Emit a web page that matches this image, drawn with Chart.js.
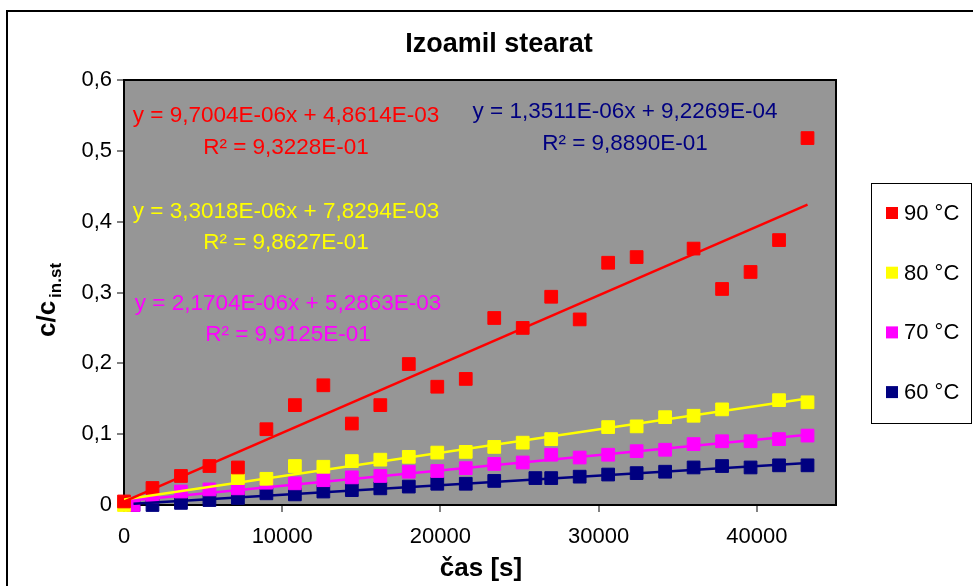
<!DOCTYPE html>
<html>
<head>
<meta charset="utf-8">
<script src="https://cdn.jsdelivr.net/npm/chart.js@4.4.1/dist/chart.umd.min.js"></script>
<style>
  html, body { margin: 0; padding: 0; background: #fff; }
</style>
</head>
<body>
<canvas id="chart" width="973" height="586"></canvas>
<script>
const seriesLabels = ["90 °C", "80 °C", "70 °C", "60 °C"];
const seriesColors = ["#ff0000", "#ffff00", "#ff00ff", "#000080"];

// measured points, time in s, c/c in.st
const time90 = [0, 1800, 3600, 5400, 7200, 9000, 10800, 12600, 14400, 16200, 18000, 19800, 21600, 23400, 25200, 27000, 28800, 30600, 32400, 36000, 37800, 39600, 41400, 43200];
const conc90 = [0.005, 0.024, 0.041, 0.055, 0.053, 0.107, 0.141, 0.169, 0.115, 0.141, 0.199, 0.167, 0.178, 0.264, 0.250, 0.294, 0.262, 0.342, 0.350, 0.362, 0.305, 0.329, 0.374, 0.518];

const time80 = [0, 7200, 9000, 10800, 12600, 14400, 16200, 18000, 19800, 21600, 23400, 25200, 27000, 30600, 32400, 34200, 36000, 37800, 41400, 43200];
const conc80 = [0.0, 0.038, 0.037, 0.055, 0.054, 0.062, 0.064, 0.068, 0.074, 0.075, 0.082, 0.088, 0.093, 0.110, 0.111, 0.124, 0.126, 0.135, 0.148, 0.145];

const time70 = [600, 1800, 3600, 5400, 7200, 9000, 10800, 12600, 14400, 16200, 18000, 19800, 21600, 23400, 25200, 27000, 28800, 30600, 32400, 34200, 36000, 37800, 39600, 41400, 43200];
const conc70 = [0.0, 0.012, 0.019, 0.022, 0.0235, 0.0315, 0.0306, 0.035, 0.039, 0.041, 0.047, 0.048, 0.052, 0.058, 0.060, 0.071, 0.067, 0.071, 0.076, 0.078, 0.086, 0.090, 0.090, 0.093, 0.098];

const time60 = [600, 1800, 3600, 5400, 7200, 9000, 10800, 12600, 14400, 16200, 18000, 19800, 21600, 23400, 26000, 27000, 28800, 30600, 32400, 34200, 36000, 37800, 39600, 41400, 43200];
const conc60 = [0.0, 0.0, 0.003, 0.007, 0.010, 0.0165, 0.015, 0.019, 0.021, 0.0235, 0.026, 0.030, 0.030, 0.034, 0.038, 0.038, 0.040, 0.043, 0.045, 0.047, 0.053, 0.055, 0.053, 0.056, 0.056];

// linear fits
const slopes = [9.7004E-06, 3.3018E-06, 2.1704E-06, 1.3511E-06];
const intercepts = [4.8614E-03, 7.8294E-03, 5.2863E-03, 9.2269E-04];
const eqTexts = ["y = 9,7004E-06x + 4,8614E-03", "y = 3,3018E-06x + 7,8294E-03", "y = 2,1704E-06x + 5,2863E-03", "y = 1,3511E-06x + 9,2269E-04"];
const r2Texts = ["R² = 9,3228E-01", "R² = 9,8627E-01", "R² = 9,9125E-01", "R² = 9,8890E-01"];

const xTicks = [0, 10000, 20000, 30000, 40000];
const yTicks = [0, 0.1, 0.2, 0.3, 0.4, 0.5, 0.6];

const times = [time90, time80, time70, time60];
const concs = [conc90, conc80, conc70, conc60];

const FONT = "'Liberation Sans', Arial, sans-serif";

const datasets = [];
seriesLabels.forEach((label, i) => {
    datasets.push({
        label,
        data: times[i].map((t, k) => ({ x: t, y: concs[i][k] })),
        showLine: false,
        pointStyle: "rect",
        pointRadius: 9,
        pointBorderWidth: 1,
        pointBackgroundColor: seriesColors[i],
        pointBorderColor: seriesColors[i],
        clip: false,
        order: 1 + i
    });
});
seriesLabels.forEach((label, i) => {
    const x0 = Math.min(...times[i]);
    const x1 = Math.max(...times[i]);
    datasets.push({
        label: label + " fit",
        data: [x0, x1].map(x => ({ x, y: slopes[i] * x + intercepts[i] })),
        showLine: true,
        pointRadius: 0,
        borderColor: seriesColors[i],
        borderWidth: 2.5,
        order: 0
    });
});

// equation label centres (px)
const eqPos = [[286, 116, 148], [286, 212, 243], [288, 304, 335], [625, 112, 144]];

const decor = {
    id: "decor",
    beforeDraw(chart) {
        const { ctx, chartArea: a } = chart;
        ctx.save();
        ctx.fillStyle = "#fff";
        ctx.fillRect(0, 0, chart.width, chart.height);
        ctx.fillStyle = "#969696";
        ctx.fillRect(a.left, a.top, a.right - a.left, a.bottom - a.top);
        ctx.restore();
    },
    beforeDatasetsDraw(chart) {
        const { ctx, chartArea: a } = chart;
        ctx.save();
        ctx.strokeStyle = "#000";
        ctx.lineWidth = 2;
        ctx.strokeRect(a.left, a.top, a.right - a.left, a.bottom - a.top);
        ctx.restore();
    },
    afterDraw(chart) {
        const { ctx } = chart;
        ctx.save();

        // outer frame
        ctx.strokeStyle = "#000";
        ctx.lineWidth = 2;
        ctx.beginPath();
        ctx.moveTo(7, chart.height);
        ctx.lineTo(7, 11);
        ctx.lineTo(chart.width, 11);
        ctx.stroke();

        // title + axis titles
        ctx.fillStyle = "#000";
        ctx.textAlign = "center";
        ctx.textBaseline = "middle";
        ctx.font = "bold 27px " + FONT;
        ctx.fillText("Izoamil stearat", 499, 45);
        ctx.font = "bold 26px " + FONT;
        ctx.fillText("čas [s]", 481, 569);

        ctx.save();
        ctx.translate(48, 300);
        ctx.rotate(-Math.PI / 2);
        ctx.font = "bold 26px " + FONT;
        const w1 = ctx.measureText("c/c").width;
        ctx.font = "bold 17px " + FONT;
        const w2 = ctx.measureText("in.st").width;
        const sx = -(w1 + 3 + w2) / 2;
        ctx.textAlign = "left";
        ctx.font = "bold 26px " + FONT;
        ctx.fillText("c/c", sx, 0);
        ctx.font = "bold 17px " + FONT;
        ctx.fillText("in.st", sx + w1 + 3, 8);
        ctx.restore();

        // trendline equations
        ctx.font = "22.5px " + FONT;
        ctx.textAlign = "center";
        eqTexts.forEach((t, i) => {
            ctx.fillStyle = seriesColors[i];
            ctx.fillText(t, eqPos[i][0], eqPos[i][1]);
            ctx.fillText(r2Texts[i], eqPos[i][0], eqPos[i][2]);
        });

        // legend
        ctx.strokeStyle = "#000";
        ctx.lineWidth = 1;
        ctx.strokeRect(871.5, 183.5, 100, 240);
        ctx.font = "22px " + FONT;
        ctx.textAlign = "left";
        seriesLabels.forEach((label, i) => {
            const y = 213 + i * 59.7;
            ctx.fillStyle = seriesColors[i];
            ctx.fillRect(886, y - 6, 12, 12);
            ctx.fillStyle = "#000";
            ctx.fillText(label, 904, y + 1);
        });
        ctx.restore();
    }
};

new Chart(document.getElementById("chart"), {
    type: "scatter",
    data: { datasets },
    options: {
        responsive: false,
        animation: false,
        layout: { padding: { left: 0, right: 137, top: 80, bottom: 0 } },
        plugins: {
            legend: { display: false },
            title: { display: false },
            tooltip: { enabled: false }
        },
        scales: {
            x: {
                type: "linear",
                min: 0,
                max: 45000,
                afterFit(s) { s.height = 81; },
                afterBuildTicks(s) { s.ticks = xTicks.map(v => ({ value: v })); },
                grid: { drawOnChartArea: false, tickLength: 7, color: "#808080", lineWidth: 2 },
                border: { color: "#000", width: 2 },
                ticks: {
                    color: "#000",
                    font: { family: FONT, size: 22 },
                    padding: 12,
                    maxRotation: 0,
                    callback: v => String(v)
                }
            },
            y: {
                type: "linear",
                min: 0,
                max: 0.6,
                afterFit(s) { s.width = 124; },
                afterBuildTicks(s) { s.ticks = yTicks.map(v => ({ value: v })); },
                grid: { drawOnChartArea: false, tickLength: 7, color: "#808080", lineWidth: 2 },
                border: { color: "#000", width: 2 },
                ticks: {
                    color: "#000",
                    font: { family: FONT, size: 22 },
                    padding: 5,
                    callback: v => v === 0 ? "0" : v.toFixed(1).replace(".", ",")
                }
            }
        }
    },
    plugins: [decor]
});
</script>
</body>
</html>
